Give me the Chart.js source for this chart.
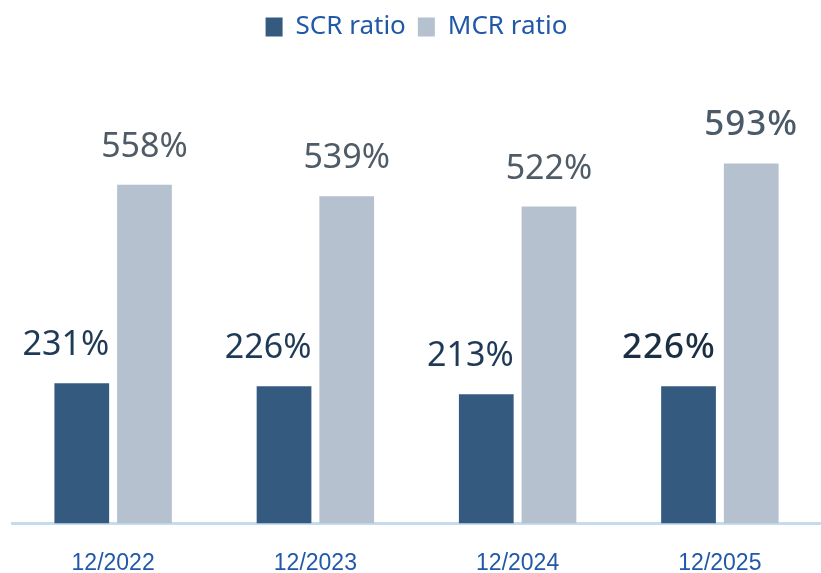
<!DOCTYPE html>
<html>
<head>
<meta charset="utf-8">
<script src="https://cdn.jsdelivr.net/npm/chart.js@4"></script>
<style>
  html, body { margin: 0; padding: 0; background: #fff; }
  #wrap { position: relative; width: 821px; height: 573px; }
</style>
</head>
<body>
<div id="wrap"><canvas id="chart"></canvas></div>
<script>
// values
const periods = ['12/2022', '12/2023', '12/2024', '12/2025'];
const scrRatio = [231, 226, 213, 226];
const mcrRatio = [558, 539, 522, 593];
const highlightIndex = 3; // last period drawn in bold

const labelColors = ['#1e3a56', '#4f5b66'];
const boldColors = ['#1b2f44', '#4a5a68'];

// draws the % labels over the bars (no datalabels plugin offline)
const valueLabels = {
  id: 'valueLabels',
  afterDatasetsDraw(chart) {
    const ctx = chart.ctx;
    chart.data.datasets.forEach((ds, di) => {
      const meta = chart.getDatasetMeta(di);
      meta.data.forEach((bar, i) => {
        const bold = i === highlightIndex;
        ctx.save();
        ctx.font = (bold ? '500 35px' : '34px') + ' "Noto Sans", sans-serif';
        ctx.fillStyle = bold ? boldColors[di] : labelColors[di];
        if ('letterSpacing' in ctx) ctx.letterSpacing = bold ? '1px' : '0px';
        ctx.textBaseline = 'alphabetic';
        let x = bar.x;
        if (di === 0) {
          ctx.textAlign = 'right';
          x = bar.x + bar.width / 2;
        } else {
          ctx.textAlign = 'center';
        }
        ctx.fillText(ds.data[i] + '%', x, bar.y - 28);
        ctx.restore();
      });
    });
  }
};

new Chart(document.getElementById('chart'), {
  type: 'bar',
  data: {
    labels: periods,
    datasets: [
      {
        label: 'SCR ratio',
        data: scrRatio,
        backgroundColor: '#345a80',
        barPercentage: 0.873,
        categoryPercentage: 0.62
      },
      {
        label: 'MCR ratio',
        data: mcrRatio,
        backgroundColor: '#b5c1cf',
        barPercentage: 0.873,
        categoryPercentage: 0.62
      }
    ]
  },
  options: {
    responsive: true,
    maintainAspectRatio: false,
    animation: false,
    layout: { padding: { left: 12, right: 0, top: 2, bottom: -30 } },
    plugins: {
      legend: {
        position: 'top',
        labels: {
          boxWidth: 17,
          boxHeight: 19,
          padding: 12,
          color: '#2158a8',
          font: { family: '"Noto Sans", sans-serif', size: 26 }
        }
      },
      tooltip: { enabled: false }
    },
    scales: {
      x: {
        grid: { display: false, drawTicks: false },
        border: { display: true, color: '#c5dcef', width: 3 },
        ticks: {
          color: '#2158a8',
          padding: 26,
          font: { family: '"Liberation Sans", sans-serif', size: 23 }
        }
      },
      y: {
        display: false,
        min: 0,
        max: 780
      }
    }
  },
  plugins: [valueLabels]
});
</script>
</body>
</html>
